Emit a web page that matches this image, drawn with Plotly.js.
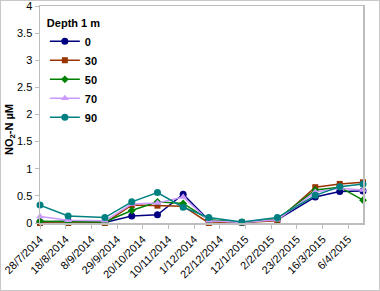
<!DOCTYPE html>
<html>
<head>
<meta charset="utf-8">
<script src="https://cdn.plot.ly/plotly-3.0.1.min.js"></script>
<style>
body{margin:0;padding:0;background:#fff;}
#wrap{position:relative;width:380px;height:291px;}
#chart{position:absolute;left:0;top:0;width:380px;height:291px;}
#frame{position:absolute;left:0;top:0;width:380px;height:291px;box-sizing:border-box;border:1px solid #c8c8c8;pointer-events:none;}
</style>
</head>
<body>
<div id="wrap"><div id="chart"></div><div id="frame"></div></div>
<script>
// sampling dates
var dates = ['2014-07-28','2014-08-20','2014-09-19','2014-10-11','2014-11-01','2014-11-22',
             '2014-12-13','2015-01-09','2015-02-07','2015-03-10','2015-03-30','2015-04-18'];
// NO2-N (µM) at 1 m, by series
var depth0  = [0.02, 0.03, 0.01, 0.13, 0.15, 0.53, 0.05, 0.01, 0.06, 0.48, 0.58, 0.59];
var depth30 = [0.00, 0.00, 0.00, 0.33, 0.32, 0.31, 0.00, 0.01, 0.04, 0.66, 0.72, 0.75];
var depth50 = [0.03, 0.02, 0.02, 0.23, 0.39, 0.36, 0.06, 0.01, 0.07, 0.61, 0.66, 0.42];
var depth70 = [0.12, 0.05, 0.04, 0.35, 0.37, 0.48, 0.04, 0.01, 0.06, 0.57, 0.64, 0.61];
var depth90 = [0.33, 0.13, 0.10, 0.39, 0.56, 0.29, 0.10, 0.02, 0.10, 0.51, 0.67, 0.72];
var seriesNames = ['0','30','50','70','90'];
// x tick labels
var tickDates = ['2014-07-28','2014-08-18','2014-09-08','2014-09-29','2014-10-20','2014-11-10',
                 '2014-12-01','2014-12-22','2015-01-12','2015-02-02','2015-02-23','2015-03-16','2015-04-06'];
var tickLabels = ['28/7/2014','18/8/2014','8/9/2014','29/9/2014','20/10/2014','10/11/2014',
                  '1/12/2014','22/12/2014','12/1/2015','2/2/2015','23/2/2015','16/3/2015','6/4/2015'];
// y tick labels
var yTickVals = [0, 0.5, 1, 1.5, 2, 2.5, 3, 3.5, 4];
var yTickText = ['0','0.5','1','1.5','2','2.5','3','3.5','4'];

var colors = ['#000080','#993300','#008000','#CC99FF','#008080'];
var symbols = ['circle','square','diamond','triangle-up','circle'];
var sizes = [7,6,6,7,7];
var vals = [depth0, depth30, depth50, depth70, depth90];

var traces = vals.map(function(v,i){
  return {
    x: dates, y: v, name: seriesNames[i], type:'scatter', mode:'lines+markers',
    line:{color:colors[i], width:1.5},
    marker:{color:colors[i], symbol:symbols[i], size:sizes[i], line:{width:0}},
    cliponaxis:false
  };
});

var font = {family:'"Liberation Sans", Arial, sans-serif', size:11, color:'#000'};
var layout = {
  width:380, height:291,
  margin:{l:40, r:17, t:6, b:68, pad:0},
  paper_bgcolor:'#fff', plot_bgcolor:'#fff',
  font: font,
  showlegend:true,
  legend:{
    x:0.015, y:0.97, xanchor:'left', yanchor:'top',
    bgcolor:'rgba(0,0,0,0)',
    title:{text:'<b>Depth 1 m</b>', side:'top', font:{family:font.family, size:11, color:'#000'}},
    font:{family:font.family, size:11, color:'#000', weight:'bold'},
    itemwidth:30, tracegroupgap:0
  },
  xaxis:{
    type:'date',
    range:['2014-07-28','2015-04-18'],
    tickvals: tickDates, ticktext: tickLabels,
    tickangle:-45,
    ticklabeloverflow:'allow',
    tickfont:{family:font.family, size:11, color:'#000'},
    showgrid:false, zeroline:false,
    showline:true, linecolor:'#bdbdbd', linewidth:1.5, mirror:true,
    ticks:'outside', ticklen:4, tickcolor:'#bdbdbd', tickwidth:1
  },
  yaxis:{
    range:[0,4],
    tickvals: yTickVals, ticktext: yTickText,
    ticklabeloverflow:'allow',
    tickfont:{family:font.family, size:11, color:'#000'},
    showgrid:false, zeroline:false,
    showline:true, linecolor:'#bdbdbd', linewidth:1.5, mirror:true,
    ticks:'outside', ticklen:4, tickcolor:'#bdbdbd', tickwidth:1
  },
  annotations:[{
    text:'<b>NO<sub>2</sub>-N µM</b>', textangle:-90,
    xref:'paper', yref:'paper', x:-30/323, y:(223-130)/217,
    xanchor:'center', yanchor:'middle', showarrow:false,
    font:{family:font.family, size:11, color:'#000'}
  }]
};

Plotly.newPlot('chart', traces, layout, {staticPlot:true, displayModeBar:false});
</script>
</body>
</html>
